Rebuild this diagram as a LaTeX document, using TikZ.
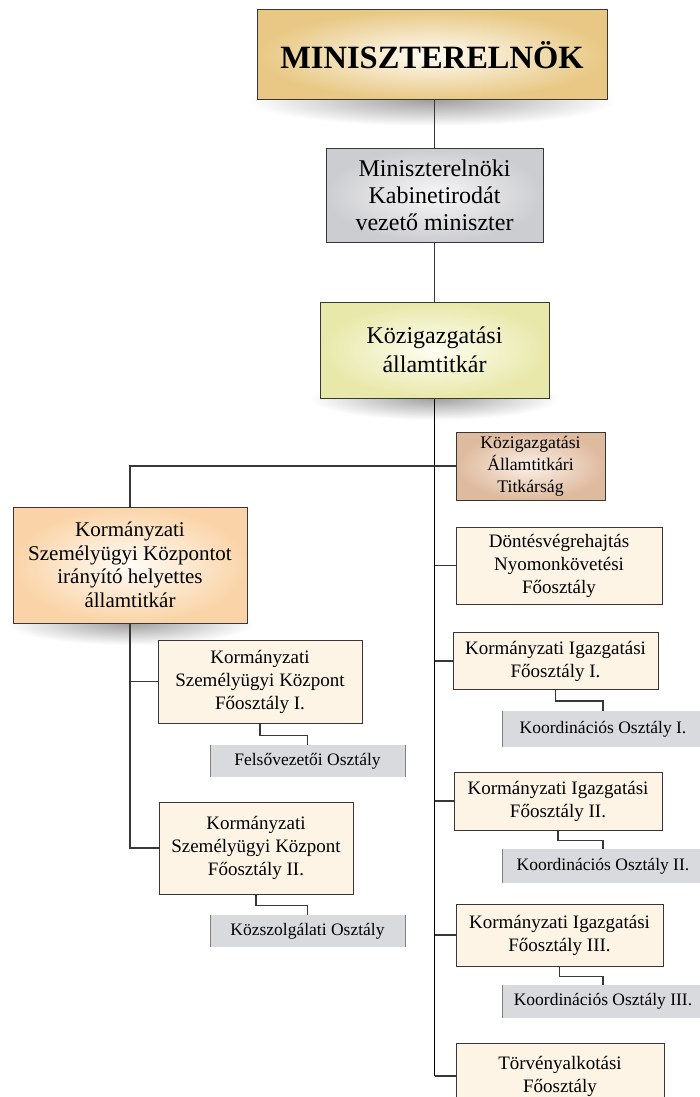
\documentclass[tikz,border=0pt]{standalone}
\usepackage{fontspec}
\setmainfont{Liberation Serif}
\definecolor{linecol}{RGB}{55,55,55}
\definecolor{goldout}{RGB}{232,200,132}
\definecolor{goldin}{RGB}{255,252,245}
\definecolor{grayout}{RGB}{204,205,208}
\definecolor{grayin}{RGB}{247,247,248}
\definecolor{yelout}{RGB}{232,232,170}
\definecolor{yelin}{RGB}{254,254,242}
\definecolor{brout}{RGB}{222,186,158}
\definecolor{brin}{RGB}{251,240,230}
\definecolor{orout}{RGB}{250,212,168}
\definecolor{orin}{RGB}{255,252,247}
\definecolor{cream}{RGB}{253,244,230}
\definecolor{graybox}{RGB}{217,218,221}
\tikzset{
  boxbase/.style={draw=linecol, line width=1pt, align=center, inner sep=0pt},
  creambox/.style={boxbase, fill=cream, font=\fontsize{19}{23}\selectfont},
  subbox/.style={fill=graybox, align=center, inner sep=0pt, font=\fontsize{17.5}{21}\selectfont},
  conn/.style={draw=linecol, line width=1.3pt},
  mainconn/.style={draw=black, line width=1.6pt},
  softshadow/.style={inner color=black!38, outer color=white}
}
\begin{document}
\begin{tikzpicture}[x=1pt,y=-1pt]
\clip (0,0) rectangle (700,1097);
\fill[white] (0,0) rectangle (700,1097);

% shadows
\shade[softshadow] (432,100) ellipse (185pt and 26pt);
\shade[softshadow] (434.5,398) ellipse (125pt and 22pt);
\shade[softshadow] (130,623) ellipse (125pt and 22pt);

% top
\node[boxbase, inner color=goldin, outer color=goldout, minimum width=350pt, minimum height=90pt,
  font=\fontsize{32.5}{36}\selectfont\bfseries] (top) at (432,55) {MINISZTERELNÖK};
\node[boxbase, inner color=grayin, outer color=grayout, minimum width=217pt, minimum height=94pt,
  font=\fontsize{24}{27}\selectfont] (kab) at (434.5,195) {Miniszterelnöki\\Kabinetirodát\\vezető miniszter};
\node[boxbase, inner color=yelin, outer color=yelout, minimum width=229pt, minimum height=96pt,
  font=\fontsize{24}{28.5}\selectfont] (kozig) at (434.5,350) {Közigazgatási\\államtitkár};
\node[boxbase, inner color=brin, outer color=brout, minimum width=149pt, minimum height=68pt,
  font=\fontsize{17.7}{22}\selectfont] (titk) at (530.5,466) {Közigazgatási\\Államtitkári\\Titkárság};
\node[boxbase, inner color=orin, outer color=orout, minimum width=234pt, minimum height=116pt,
  font=\fontsize{21}{23.5}\selectfont] (left) at (130,565) {Kormányzati\\Személyügyi Központot\\irányító helyettes\\államtitkár};

% right column
\node[creambox, minimum width=206pt, minimum height=77pt] (dont) at (559,565.5) {Döntésvégrehajtás\\Nyomonkövetési\\Főosztály};
\node[creambox, minimum width=205pt, minimum height=57pt] (kig1) at (555.5,661) {Kormányzati Igazgatási\\Főosztály I.};
\node[subbox, minimum width=202pt, minimum height=36pt] (koord1) at (603,729) {Koordinációs Osztály I.};
\node[creambox, minimum width=208pt, minimum height=58pt] (kig2) at (558,801) {Kormányzati Igazgatási\\Főosztály II.};
\node[subbox, minimum width=202pt, minimum height=34pt] (koord2) at (603,866) {Koordinációs Osztály II.};
\node[creambox, minimum width=207pt, minimum height=62pt] (kig3) at (559.5,935) {Kormányzati Igazgatási\\Főosztály III.};
\node[subbox, minimum width=202pt, minimum height=33pt] (koord3) at (603,1001.5) {Koordinációs Osztály III.};
\node[creambox, minimum width=208pt, minimum height=66pt] (torv) at (560,1076) {Törvényalkotási\\Főosztály};

% left column
\node[creambox, minimum width=204pt, minimum height=83pt] (ksz1) at (260,681.5) {Kormányzati\\Személyügyi Központ\\Főosztály I.};
\node[subbox, minimum width=195pt, minimum height=32pt] (felso) at (307.5,761) {Felsővezetői Osztály};
\node[creambox, minimum width=194pt, minimum height=92pt] (ksz2) at (256,848) {Kormányzati\\Személyügyi Központ\\Főosztály II.};
\node[subbox, minimum width=195pt, minimum height=32pt] (kozsz) at (307.5,931) {Közszolgálati Osztály};

% gray box side edges
\foreach \n in {koord1,koord2,koord3,felso,kozsz}{
  \draw[gray, line width=0.6pt] (\n.north west) -- (\n.south west);
  \draw[gray, line width=0.6pt] (\n.north east) -- (\n.south east);
}

% connectors
\draw[conn] (kab.north |- top.south) -- (kab.north);
\draw[conn] (kab.south) -- (kab.south |- kozig.north);
\draw[mainconn] (kozig.south) -- (kozig.south |- torv.west);
\draw[conn] (kozig.south |- torv.west) -- (torv.west);
\draw[conn] (left.north) |- (titk.west);
\draw[conn] (kozig.south |- dont.west) -- (dont.west);
\draw[conn] (kozig.south |- kig1.west) -- (kig1.west);
\draw[conn] (kozig.south |- kig2.west) -- (kig2.west);
\draw[conn] (kozig.south |- kig3.west) -- (kig3.west);
\draw[conn] (left.south) -- (left.south |- ksz2.west) -- (ksz2.west);
\draw[conn] (left.south |- ksz1.west) -- (ksz1.west);

\draw[conn] (ksz1.south) -- ++(0,12) -| (felso.north);
\draw[conn] (ksz2.south) -- ++(0,11) -| (kozsz.north);
\draw[conn] (kig1.south) -- ++(0,11) -| (koord1.north);
\draw[conn] (kig2.south) -- ++(0,10) -| (koord2.north);
\draw[conn] (kig3.south) -- ++(0,10) -| (koord3.north);
\end{tikzpicture}
\end{document}
